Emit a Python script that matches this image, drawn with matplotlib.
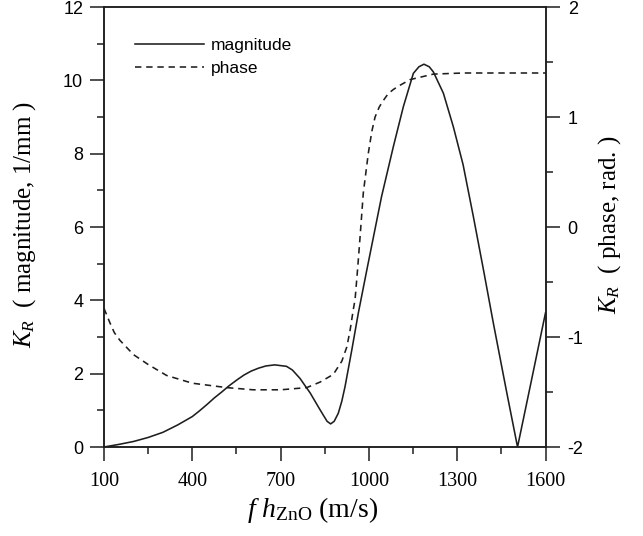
import matplotlib
matplotlib.use("Agg")
import matplotlib.pyplot as plt
from matplotlib.ticker import FixedLocator

plt.rcParams['mathtext.fontset'] = 'custom'
plt.rcParams['mathtext.rm'] = 'Liberation Serif'
plt.rcParams['mathtext.it'] = 'Liberation Serif:italic'
plt.rcParams['axes.unicode_minus'] = False

# f*h (m/s) and |K_R| (1/mm)
fh_mag = [100, 150, 200, 250, 300, 350, 400, 425, 450, 475, 500, 525, 550,
          575, 600, 625, 650, 680, 720, 740, 766, 785, 800, 830, 845, 858,
          870, 882, 896, 908, 919, 942, 964, 993, 1043, 1083, 1117, 1151,
          1170, 1187, 1205, 1219, 1253, 1287, 1320, 1355, 1390, 1423, 1468,
          1505, 1550, 1600]
magnitude = [0.0, 0.07, 0.15, 0.26, 0.40, 0.60, 0.83, 0.99, 1.16, 1.34, 1.50,
             1.67, 1.82, 1.96, 2.07, 2.15, 2.21, 2.24, 2.20, 2.10, 1.87, 1.65,
             1.48, 1.07, 0.87, 0.70, 0.63, 0.70, 0.92, 1.25, 1.65, 2.65, 3.65,
             4.83, 6.83, 8.19, 9.28, 10.19, 10.37, 10.44, 10.37, 10.23, 9.65,
             8.73, 7.70, 6.28, 4.80, 3.37, 1.50, 0.0, 1.73, 3.66]

# f*h (m/s) and phase of K_R (rad)
fh_ph = [100, 120, 135, 154, 200, 250, 313, 400, 517, 607, 700, 789, 834,
         879, 908, 925, 936, 947, 953, 962, 970, 981, 998, 1010, 1021, 1035,
         1049, 1065, 1083, 1100, 1140, 1219, 1321, 1600]
phase = [-0.74, -0.87, -0.96, -1.03, -1.16, -1.25, -1.35, -1.42, -1.46, -1.48,
         -1.48, -1.46, -1.41, -1.34, -1.22, -1.09, -0.94, -0.75, -0.66, -0.37,
         -0.09, 0.31, 0.67, 0.87, 1.00, 1.09, 1.15, 1.21, 1.25, 1.28, 1.34,
         1.39, 1.40, 1.40]

x_major = [100, 400, 700, 1000, 1300, 1600]
x_minor = [250, 550, 850, 1150, 1450]

ink = '#1e1e1e'
sans = 'Liberation Sans'
serif = 'Liberation Serif'

fig = plt.figure(figsize=(6.43, 5.36), dpi=100)
ax = fig.add_axes([104 / 643, 1 - 447 / 536, 441.5 / 643, 440 / 536])
ax2 = ax.twinx()

l1, = ax.plot(fh_mag, magnitude, color=ink, lw=1.15, label='magnitude')
l2, = ax2.plot(fh_ph, phase, color=ink, lw=1.15, dashes=(4, 3), label='phase')

ax.set_xlim(100, 1600)
ax.set_ylim(0, 12)
ax2.set_ylim(-2, 2)
ax.xaxis.set_major_locator(FixedLocator(x_major))
ax.xaxis.set_minor_locator(FixedLocator(x_minor))
ax.yaxis.set_major_locator(FixedLocator(range(0, 13, 2)))
ax.yaxis.set_minor_locator(FixedLocator(range(1, 12, 2)))
ax2.yaxis.set_major_locator(FixedLocator([-2, -1, 0, 1, 2]))
ax2.yaxis.set_minor_locator(FixedLocator([-1.5, -0.5, 0.5, 1.5]))

for a in (ax, ax2):
    for s in a.spines.values():
        s.set_linewidth(1.1)
        s.set_color(ink)
    a.tick_params(which='major', length=10, width=1.1, color=ink)
    a.tick_params(which='minor', length=5, width=1.1, color=ink)

ax.tick_params(axis='x', which='both', direction='out', top=False)
ax.tick_params(axis='x', which='major', pad=8, labelsize=14.5)
ax.tick_params(axis='y', which='both', direction='out', right=False)
ax.tick_params(axis='y', which='major', pad=5, labelsize=13)
ax2.tick_params(axis='y', which='both', direction='out', left=False)
ax2.tick_params(axis='y', which='major', pad=6, labelsize=13)

for t in ax.get_xticklabels():
    t.set_fontfamily(serif)
for t in ax.get_yticklabels() + ax2.get_yticklabels():
    t.set_fontfamily(sans)

ax.set_xlabel(r'$f$ $h_{\mathrm{ZnO}}$ (m/s)', fontsize=20, fontfamily=serif,
              va='baseline')
ax.xaxis.set_label_coords(0.472, -0.158)
ax.set_ylabel(r'$K_R$  ( magnitude, 1/mm )', fontsize=18, fontfamily=serif,
              va='center')
ax.yaxis.set_label_coords(-0.179, 0.505)
ax2.set_ylabel(r'$K_R$  ( phase, rad. )', fontsize=18, fontfamily=serif,
               va='center', rotation=90)
ax2.yaxis.set_label_coords(1.146, 0.505)

leg = ax.legend([l1, l2], ['magnitude', 'phase'], loc='upper left',
                bbox_to_anchor=(0.07, 0.93), frameon=False, borderpad=0,
                borderaxespad=0, handlelength=4.0, handletextpad=0.4,
                labelspacing=0.45, prop={'family': sans, 'size': 12.5})

fig.savefig('out.png', dpi=100)
